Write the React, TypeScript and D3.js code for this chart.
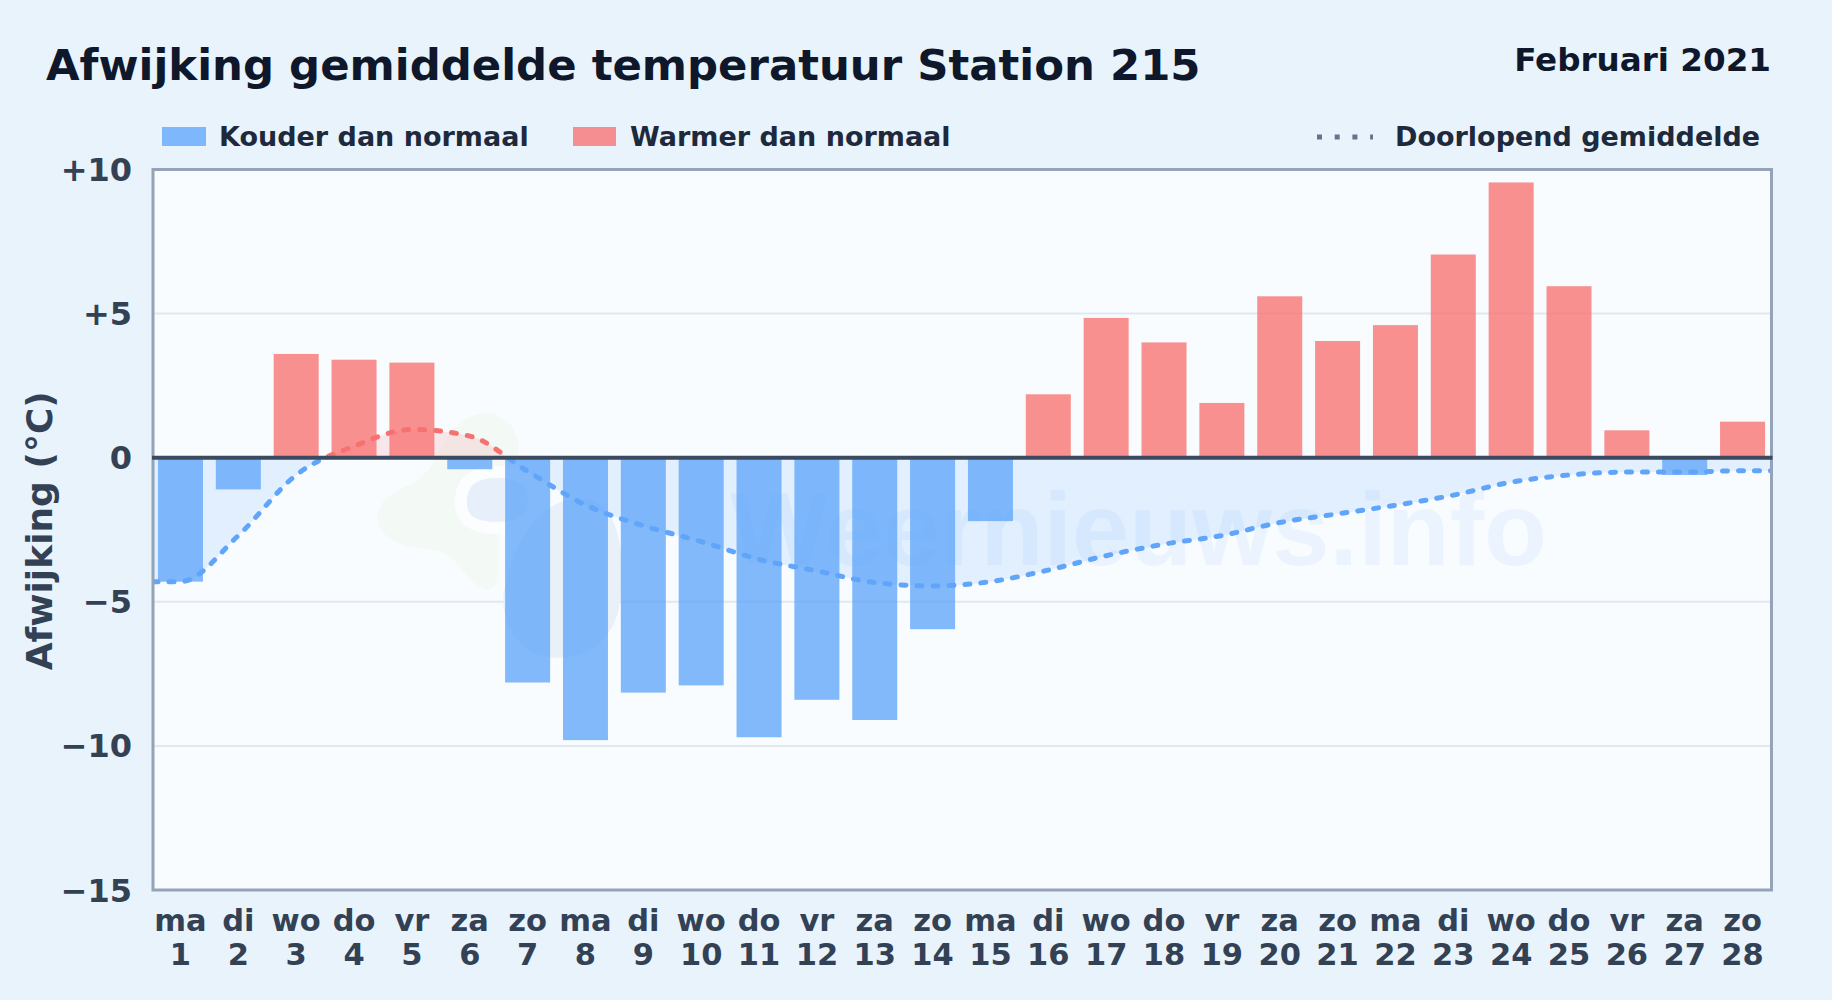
import React, { useEffect, useRef } from 'react';
import * as d3 from 'd3';

const weekdays = ['ma', 'di', 'wo', 'do', 'vr', 'za', 'zo', 'ma', 'di', 'wo', 'do', 'vr', 'za', 'zo', 'ma', 'di', 'wo', 'do', 'vr', 'za', 'zo', 'ma', 'di', 'wo', 'do', 'vr', 'za', 'zo'];
const days = d3.range(1, 29);
const anomaly = [-4.3, -1.1, 3.6, 3.4, 3.3, -0.4, -7.8, -9.8, -8.15, -7.9, -9.7, -8.4, -9.1, -5.95, -2.2, 2.2, 4.85, 4.0, 1.9, 5.6, 4.05, 4.6, 7.05, 9.55, 5.95, 0.95, -0.6, 1.25];
const runningMean = [-4.3, -2.7, -0.6, 0.4, 0.98, 0.75, -0.47, -1.64, -2.36, -2.91, -3.53, -3.93, -4.33, -4.45, -4.3, -3.9, -3.4, -3.0, -2.7, -2.25, -1.95, -1.65, -1.3, -0.85, -0.6, -0.5, -0.5, -0.45];
const yTicks = [10, 5, 0, -5, -10, -15];
const yTickLabels = ['+10', '+5', '0', '\u22125', '\u221210', '\u221215'];

// faint logo behind the plot
const logoGreen: [number, number][] = [[480, 404], [520, 425], [520, 470], [492, 490], [505, 600], [470, 585], [450, 548], [410, 550], [374, 532], [378, 495], [430, 480], [440, 440]];
const logoGrey: [number, number][] = [[505, 575], [535, 505], [600, 490], [625, 540], [622, 635], [570, 662], [525, 655], [500, 615]];
const logoBlue: [number, number][] = [[458, 500], [468, 474], [505, 470], [535, 480], [535, 522], [500, 530], [465, 525]];

const font = '"DejaVu Sans", sans-serif';

export default function App() {
  const svgRef = useRef<SVGSVGElement>(null);

  useEffect(() => {
    if (!svgRef.current) return;

    // Clear previous content
    d3.select(svgRef.current).selectAll('*').remove();

    const left = 153, right = 1771.5, top = 169.5, bottom = 890;

    const svg = d3.select(svgRef.current).attr('width', 1832).attr('height', 1000);

    const defs = svg.append('defs');

    svg.append('rect').attr('width', 1832).attr('height', 1000).attr('fill', '#e8f3fc');
    svg.append('rect').attr('x', left).attr('y', top).attr('width', right - left).attr('height', bottom - top).attr('fill', '#f8fcff');

    // Create scales
    const x = d3.scaleLinear().domain([0.525, 28.5]).range([left, right]);
    const y = d3.scaleLinear().domain([-15, 10]).range([bottom, top]);
    const barWidth = 45;

    defs.append('clipPath').attr('id', 'above').append('rect')
      .attr('x', left).attr('y', top).attr('width', right - left).attr('height', y(0) - top);
    defs.append('clipPath').attr('id', 'below').append('rect')
      .attr('x', left).attr('y', y(0)).attr('width', right - left).attr('height', bottom - y(0));

    // Grid
    svg.selectAll('line.grid')
      .data(yTicks.filter(d => d !== 0 && d !== 10 && d !== -15))
      .enter()
      .append('line')
      .attr('x1', left).attr('x2', right)
      .attr('y1', d => y(d)).attr('y2', d => y(d))
      .attr('stroke', '#e2e8f0').attr('stroke-width', 2);

    // Watermark
    const blob = d3.line().curve(d3.curveBasisClosed);
    const mark = svg.append('g');
    mark.append('path').attr('d', blob(logoGreen)).attr('fill', '#f3f9f5');
    mark.append('path').attr('d', blob(logoGrey)).attr('fill', '#e8f1f9');
    mark.append('path').attr('d', blob(logoBlue)).attr('fill', '#e7f0fa').attr('stroke', '#fbfdff').attr('stroke-width', 12);
    mark.append('text')
      .attr('x', 1547).attr('y', 565)
      .attr('text-anchor', 'end')
      .attr('font-family', '"Liberation Sans", sans-serif')
      .attr('font-weight', 700)
      .attr('font-size', 103)
      .attr('fill', '#60a5fa')
      .attr('opacity', 0.08)
      .text('Weernieuws.info');

    // Running mean, extended flat to both plot edges
    const meanPoints: [number, number][] = [
      [x.domain()[0], runningMean[0]],
      ...days.map((d, i) => [d, runningMean[i]] as [number, number]),
      [x.domain()[1], runningMean[runningMean.length - 1]],
    ];
    const area = d3.area<[number, number]>().x(d => x(d[0])).y0(y(0)).y1(d => y(d[1])).curve(d3.curveMonotoneX);
    const meanLine = d3.line<[number, number]>().x(d => x(d[0])).y(d => y(d[1])).curve(d3.curveMonotoneX);

    svg.append('path').attr('d', area(meanPoints)).attr('clip-path', 'url(#above)').attr('fill', '#f87171').attr('opacity', 0.15);
    svg.append('path').attr('d', area(meanPoints)).attr('clip-path', 'url(#below)').attr('fill', '#60a5fa').attr('opacity', 0.15);

    // Bars
    svg.selectAll('rect.bar')
      .data(anomaly)
      .enter()
      .append('rect')
      .attr('class', 'bar')
      .attr('x', (_, i) => x(days[i]) - barWidth / 2)
      .attr('y', d => y(Math.max(d, 0)))
      .attr('width', barWidth)
      .attr('height', d => Math.abs(y(d) - y(0)))
      .attr('fill', d => (d < 0 ? '#60a5fa' : '#f87171'))
      .attr('opacity', 0.78);

    [['above', '#f87171'], ['below', '#60a5fa']].forEach(([clip, color]) => {
      svg.append('path')
        .attr('d', meanLine(meanPoints))
        .attr('clip-path', `url(#${clip})`)
        .attr('fill', 'none')
        .attr('stroke', color)
        .attr('stroke-width', 5)
        .attr('stroke-linecap', 'round')
        .attr('stroke-dasharray', '5 11');
    });

    // Frame and zero line
    svg.append('rect')
      .attr('x', left).attr('y', top).attr('width', right - left).attr('height', bottom - top)
      .attr('fill', 'none').attr('stroke', '#94a3b8').attr('stroke-width', 3);
    svg.append('line')
      .attr('x1', left - 1).attr('x2', right + 1)
      .attr('y1', y(0)).attr('y2', y(0))
      .attr('stroke', '#3b4a5e').attr('stroke-width', 4);

    const label = (sel: any, size: number, color: string) =>
      sel.attr('font-family', font).attr('font-weight', 700).attr('font-size', size).attr('fill', color);

    // Y axis labels
    label(svg.selectAll('text.yt').data(yTicks).enter().append('text'), 32, '#334155')
      .attr('x', 132)
      .attr('y', (d: number) => y(d) + 11.5)
      .attr('text-anchor', 'end')
      .text((_: number, i: number) => yTickLabels[i]);

    label(svg.append('text'), 36, '#334155')
      .attr('transform', `translate(52,${(top + bottom) / 2 + 1}) rotate(-90)`)
      .attr('text-anchor', 'middle')
      .text('Afwijking (°C)');

    // X axis labels, weekday over day number
    label(svg.selectAll('text.xd').data(days).enter().append('text'), 30.5, '#334155')
      .attr('x', (d: number) => x(d))
      .attr('y', 931)
      .attr('text-anchor', 'middle')
      .text((_: number, i: number) => weekdays[i]);
    label(svg.selectAll('text.xn').data(days).enter().append('text'), 30.5, '#334155')
      .attr('x', (d: number) => x(d))
      .attr('y', 965)
      .attr('text-anchor', 'middle')
      .text((d: number) => d);

    // Titles
    label(svg.append('text'), 43.4, '#0f172a').attr('x', 46).attr('y', 80).text('Afwijking gemiddelde temperatuur Station 215');
    label(svg.append('text'), 32.6, '#0f172a').attr('x', 1771).attr('y', 71).attr('text-anchor', 'end').text('Februari 2021');

    // Legend
    svg.append('rect').attr('x', 162).attr('y', 127).attr('width', 44).attr('height', 19).attr('fill', '#60a5fa').attr('opacity', 0.78);
    label(svg.append('text'), 27, '#1e293b').attr('x', 219).attr('y', 146).text('Kouder dan normaal');
    svg.append('rect').attr('x', 573).attr('y', 127).attr('width', 43).attr('height', 19).attr('fill', '#f87171').attr('opacity', 0.78);
    label(svg.append('text'), 27, '#1e293b').attr('x', 630).attr('y', 146).text('Warmer dan normaal');
    svg.append('line')
      .attr('x1', 1317).attr('x2', 1373).attr('y1', 137).attr('y2', 137)
      .attr('stroke', '#64748b').attr('stroke-width', 5).attr('stroke-dasharray', '5 12.7');
    label(svg.append('text'), 27, '#1e293b').attr('x', 1395).attr('y', 146).text('Doorlopend gemiddelde');
  }, []);

  return <svg ref={svgRef} style={{ position: 'fixed', left: 0, top: 0 }}></svg>;
}
